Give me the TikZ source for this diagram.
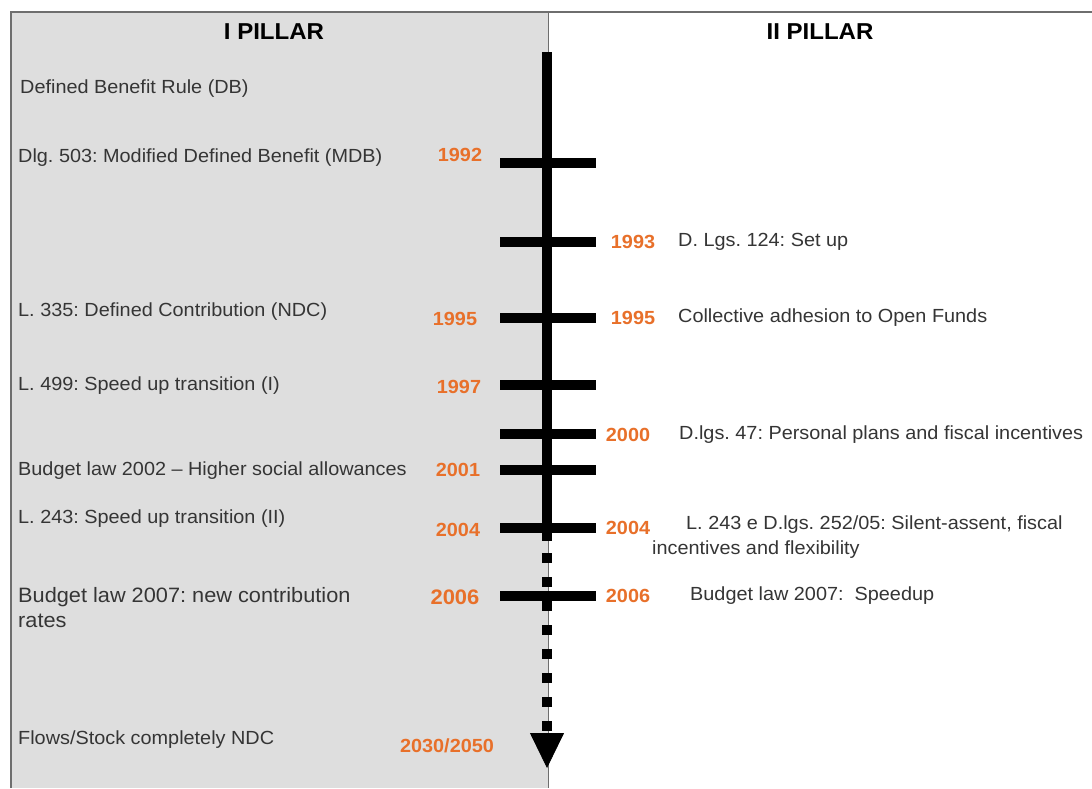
\documentclass[tikz,border=0pt]{standalone}
\usepackage{fontspec}
\setmainfont{Liberation Sans}[FakeStretch=1.045]
\usetikzlibrary{arrows.meta,positioning,calc}
\definecolor{pilGray}{HTML}{DEDEDE}
\definecolor{pilFrame}{HTML}{6E6E6E}
\definecolor{pilOrange}{HTML}{E8702A}
\definecolor{pilText}{HTML}{353535}
\frenchspacing

\begin{document}
\begin{tikzpicture}[x=1pt,y=-1pt,
    lbl/.style={font=\fontsize{19}{23}\selectfont,text=pilText,anchor=west,
                inner sep=0pt,align=left},
    big/.style={font=\fontsize{20.8}{25}\selectfont},
    yr/.style={font=\fontsize{19}{23}\selectfont\bfseries,text=pilOrange,inner sep=0pt},
    yrbig/.style={yr,font=\fontsize{21}{25}\selectfont\bfseries},
    hd/.style={font=\fontsize{23}{27}\selectfont\bfseries,inner sep=0pt},
    tickbar/.style={line width=10pt}]
  \useasboundingbox (0,0) rectangle (1092,788);
  \fill[white] (0,0) rectangle (1092,788);
  % the two pillars
  \fill[pilGray] (12,12) rectangle (548,788);
  \draw[pilFrame,line width=2pt] (11,788) -- (11,12) -- (1092,12);
  \draw[pilFrame,line width=0.8pt] (548,12) -- (548,788);
  \node[hd] (p1) at (274,32) {I PILLAR};
  \node[hd] (p2) at (820,32) {II PILLAR};
  % time axis
  \coordinate (top) at (547,52);
  \coordinate (mid) at (547,541);
  \coordinate (arr) at (547,733);
  \coordinate (tip) at (547,768);
  \draw[line width=10pt] (top) -- (mid);
  \draw[line width=10pt,dash pattern=on 10pt off 14pt,dash phase=12pt] (mid) -- (arr);
  \draw[line width=0.8pt,-{Triangle[length=35pt,width=34pt]}] (arr) -- (tip);
  \foreach \y in {163,242,318,385,434,470,528,596}
    \draw[tickbar] (500,\y) -- (596,\y);
  % I pillar
  \node[lbl] (db) at (20,89) {Defined Benefit Rule (DB)};
  \node[lbl] (mdb) at (18,158) {Dlg. 503: Modified Defined Benefit (MDB)};
  \node[yr] (y92) at (460,155) {1992};
  \node[lbl] (ndc) at (18,312) {L. 335: Defined Contribution (NDC)};
  \node[yr] (y95l) at (455,319) {1995};
  \node[lbl] (sp1) at (18,386) {L. 499: Speed up transition (I)};
  \node[yr] (y97) at (459,387) {1997};
  \node[lbl] (b02) at (18,471) {Budget law 2002 -- Higher social allowances};
  \node[yr] (y01) at (458,470) {2001};
  \node[lbl] (sp2) at (18,519) {L. 243: Speed up transition (II)};
  \node[yr] (y04l) at (458,530) {2004};
  \node[lbl,big] (rates) at (18,608) {Budget law 2007: new contribution\\rates};
  \node[yrbig] (y06l) at (455,597) {2006};
  \node[lbl] (flows) at (18,740) {Flows/Stock completely NDC};
  \node[yr] (y30) at (447,746) {2030/2050};
  % II pillar
  \node[yr] (y93) at (633,242) {1993};
  \node[lbl] (setup) at (678,242) {D. Lgs. 124: Set up};
  \node[yr] (y95r) at (633,318) {1995};
  \node[lbl] (open) at (678,318) {Collective adhesion to Open Funds};
  \node[yr] (y00) at (628,435) {2000};
  \node[lbl] (pers) at (679,435) {D.lgs. 47: Personal plans and fiscal incentives};
  \node[yr] (y04r) at (628,528) {2004};
  \node[lbl] (silent) at (686,525) {L. 243 e D.lgs. 252/05: Silent-assent, fiscal};
  \node[lbl] (flex) at (652,550) {incentives and flexibility};
  \node[yr] (y06r) at (628,596) {2006};
  \node[lbl] (speed) at (690,596) {Budget law 2007:\ \ Speedup};
\end{tikzpicture}
\end{document}
